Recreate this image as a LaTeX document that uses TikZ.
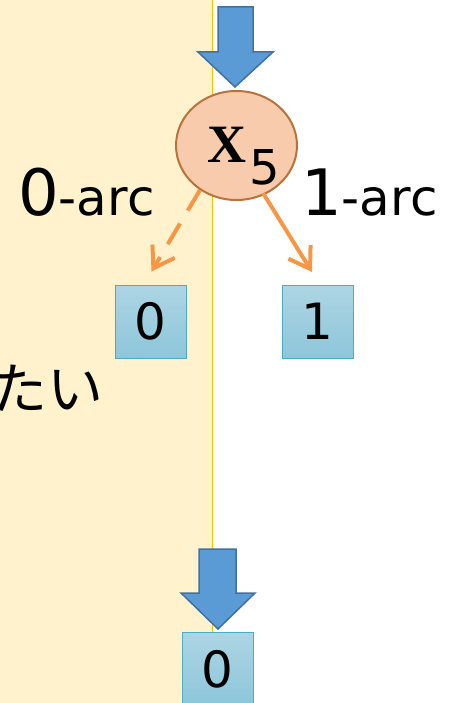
\documentclass[tikz,border=0pt]{standalone}
\usepackage{fontspec}
\setmainfont{DejaVu Sans}
\newfontfamily\jp{Noto Sans CJK JP}
\newfontfamily\serifx{Liberation Serif}
\usetikzlibrary{arrows.meta,shapes.geometric}
\definecolor{panel}{HTML}{FFF2CC}
\definecolor{panelline}{HTML}{FFC000}
\definecolor{peach}{HTML}{F8CBAD}
\definecolor{peachline}{HTML}{B8733A}
\definecolor{arcorange}{HTML}{F79646}
\definecolor{boxtop}{HTML}{ADD5E4}
\definecolor{boxbot}{HTML}{8DC6DA}
\definecolor{boxline}{HTML}{4BACC6}
\definecolor{blockfill}{HTML}{5B9BD5}
\definecolor{blockline}{HTML}{41719C}
\tikzset{
  termbox/.style={draw=boxline, line width=1pt, top color=boxtop, bottom color=boxbot,
    minimum width=71pt, minimum height=73pt, inner sep=0pt, font=\fontsize{50}{50}\selectfont},
  varnode/.style={ellipse, draw=peachline, line width=2pt, fill=peach,
    minimum width=121pt, minimum height=109pt, inner sep=0pt},
  arcline/.style={draw=arcorange, line width=4pt,
    -{Straight Barb[length=20pt,width=26pt,line width=4pt]}},
  blockarrow/.style={fill=blockfill, draw=blockline, line width=1.5pt, line join=miter},
  arclabel/.style={anchor=base west, inner sep=0pt}
}
\begin{document}
\begin{tikzpicture}[x=1pt,y=-1pt]
\useasboundingbox (0,0) rectangle (454,703);
\clip (0,0) rectangle (454,703);
% panel
\fill[panel] (-5,-5) rectangle (212,710);
\draw[panelline, line width=1pt] (212,-5) -- (212,710);
% variable node
\node[varnode] (x5) at (236.5,145.5) {};
\node[anchor=base west, inner sep=0pt] (xlab) at (207,163) {\serifx\bfseries\fontsize{54}{54}\selectfont X};
\node[anchor=base west, inner sep=0pt] (xsub) at (249,185) {\fontsize{48}{48}\selectfont 5};
% terminal boxes
\node[termbox] (t0) at (150.5,321.5) {0};
\node[termbox] (t1) at (317.5,321.5) {1};
\node[termbox, anchor=north] (tb) at (217.5,632) {0};
% arcs
\coordinate (s0) at (200,190);
\coordinate (e0) at (151.5,271.5);
\coordinate (s1) at (263,193);
\coordinate (e1) at (312,272);
\draw[arcline, dash pattern=on 24pt off 15pt] (s0) -- (e0);
\draw[arcline] (s1) -- (e1);
% arc labels
\node[arclabel] (l0) at (18,215) {{\fontsize{64}{64}\selectfont 0}{\fontsize{50}{50}\selectfont -arc}};
\node[arclabel] (l1) at (301,215) {{\fontsize{64}{64}\selectfont 1}{\fontsize{50}{50}\selectfont -arc}};
% japanese fragment
\node[anchor=base east, inner sep=0pt] (jt) at (104,409) {\jp\fontsize{56}{56}\selectfont たい};
% block arrows
\draw[blockarrow] (218,7) -- (253,7) -- (253,52) -- (273,52) -- (235,87) -- (198,52) -- (218,52) -- cycle;
\draw[blockarrow] (199,549) -- (236,549) -- (236,593) -- (255,593) -- (218,629) -- (181,593) -- (199,593) -- cycle;
\end{tikzpicture}
\end{document}
